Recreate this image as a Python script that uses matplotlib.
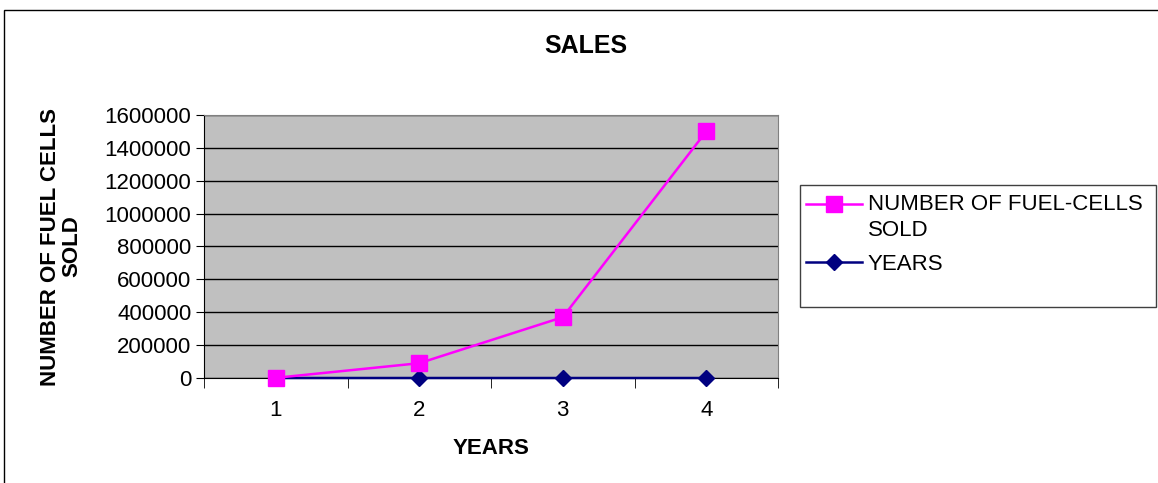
import matplotlib

matplotlib.use("Agg")
import matplotlib.pyplot as plt
from matplotlib.patches import Rectangle

years = [1, 2, 3, 4]
fuel_cells_sold = [1000, 90000, 370000, 1500000]
year_values = [1, 2, 3, 4]
y_ticks = [0, 200000, 400000, 600000, 800000, 1000000, 1200000, 1400000, 1600000]

plt.rcParams["font.family"] = ["Liberation Sans", "DejaVu Sans"]

W, H = 1158, 483
fig = plt.figure(figsize=(W / 100, H / 100), dpi=100)

# outer chart frame (open on right and bottom like the source)
fig.patches.append(Rectangle((4 / W, -0.1), 1.2, 1.1 - 10 / H, transform=fig.transFigure,
                             fill=False, edgecolor="black", linewidth=1.0))

ax = fig.add_axes([204 / W, 1 - 378 / H, 574 / W, 263 / H])
ax.set_facecolor("#C0C0C0")
for s in ax.spines.values():
    s.set_color("#808080")
ax.spines["left"].set_color("black")
ax.spines["bottom"].set_color("black")

ax.plot(years, fuel_cells_sold, color="#FF00FF", marker="s", markersize=11.5,
        linewidth=1.8, label="NUMBER OF FUEL-CELLS\nSOLD", zorder=4, clip_on=False)
ax.plot(years, year_values, color="#000080", marker="D", markersize=8,
        linewidth=1.8, label="YEARS", zorder=3, clip_on=False)

ax.set_xlim(0.5, 4.5)
ax.set_ylim(0, 1600000)
ax.set_yticks(y_ticks)
ax.set_yticklabels([str(v) for v in y_ticks])
ax.yaxis.grid(True, color="black", linewidth=1.0)
ax.set_axisbelow(True)

ax.set_xticks(years)
ax.set_xticklabels([str(y) for y in years])
ax.set_xticks([0.5, 1.5, 2.5, 3.5, 4.5], minor=True)
ax.tick_params(axis="x", which="major", length=0, pad=16, labelsize=16)
ax.tick_params(axis="x", which="minor", length=7, direction="out", color="black")
ax.tick_params(axis="y", length=6, direction="out", labelsize=16, pad=3)

ax.set_xlabel("YEARS", fontsize=16, fontweight="bold", labelpad=12)
ax.set_ylabel("NUMBER OF FUEL CELLS\nSOLD", fontsize=16, fontweight="bold",
              labelpad=16, linespacing=1.05)
fig.text(586 / W, 1 - 46 / H, "SALES", ha="center", va="center",
         fontsize=18, fontweight="bold")

# legend box is larger than its entries in the source
fig.patches.append(Rectangle((800 / W, 1 - 307 / H), 356 / W, 122 / H,
                             transform=fig.transFigure, fill=False,
                             edgecolor="#404040", linewidth=1.0))
leg = fig.legend(loc="upper left", bbox_to_anchor=(806 / W, 1 - 194 / H),
                 fontsize=16, frameon=False, handlelength=2.5,
                 borderpad=0.0, labelspacing=0.6, handletextpad=0.27,
                 borderaxespad=0)
for t in leg.get_texts():
    t.set_linespacing(1.3)
# put the first marker level with the first text line
h0 = leg.legend_handles[0]
h0.set_ydata([y + 10 for y in h0.get_ydata()])

fig.savefig("out.png", dpi=100)
